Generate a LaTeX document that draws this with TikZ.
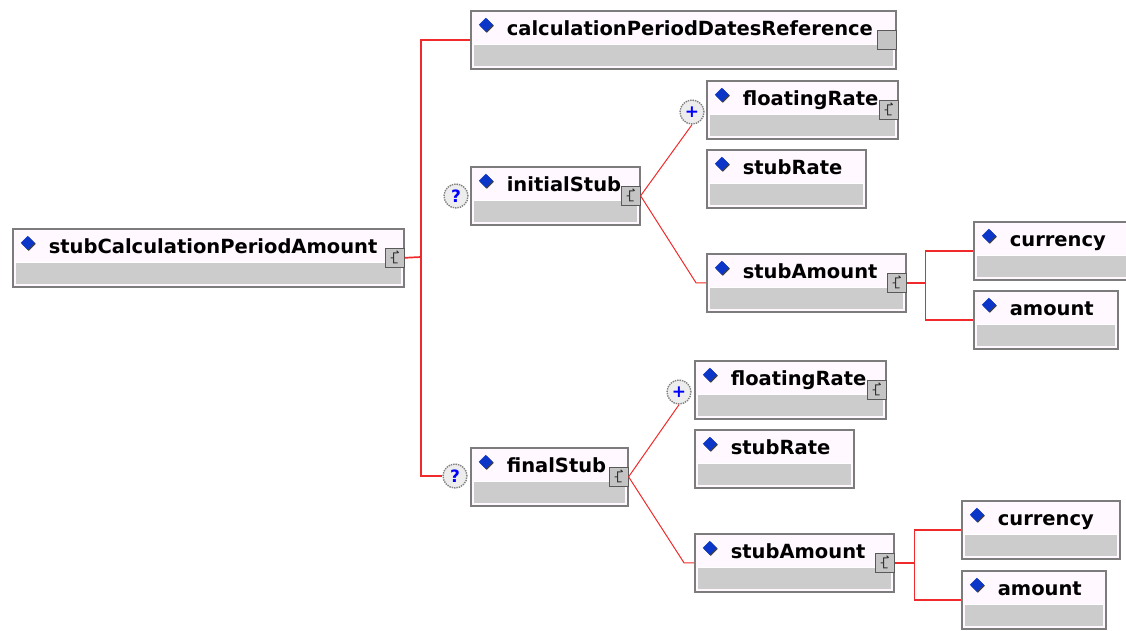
\documentclass[tikz,border=0pt]{standalone}
\usepackage{fontspec}
\setmainfont{DejaVu Sans}
\usepackage{tikz}
\usetikzlibrary{calc}
\definecolor{boxline}{HTML}{7C7C7C}
\definecolor{boxtop}{HTML}{FFF8FF}
\definecolor{boxband}{HTML}{CCCCCC}
\definecolor{linkred}{HTML}{F02A2A}
\definecolor{diablue}{HTML}{0B36C8}
\definecolor{iconfill}{HTML}{C4C4C4}
\tikzstyle{elem} = [rectangle, draw=boxline, line width=1.6pt, fill=boxtop, anchor=north west, inner sep=0pt, align=left,
  text height=24.5pt, text depth=33.5pt, font=\bfseries\fontsize{19.5}{21}\selectfont,
  execute at begin node={\hspace*{36pt}},
  path picture={
    \fill[boxband] ([shift={(3,34)}]path picture bounding box.north west) rectangle ([shift={(-3,-3)}]path picture bounding box.south east);
    \draw[white, line width=0.8pt] ([shift={(2,33.5)}]path picture bounding box.north west) -- ([shift={(-2,33.5)}]path picture bounding box.north east);
    \fill[black!75] ([shift={(16,8)}]path picture bounding box.north west) -- ++(7,7) -- ++(-7,7) -- ++(-7,-7) -- cycle;
    \fill[diablue] ([shift={(15,7)}]path picture bounding box.north west) -- ++(7,7) -- ++(-7,7) -- ++(-7,-7) -- cycle;
  }]
\tikzstyle{badge} = [circle, minimum size=24pt, inner sep=0pt, draw=black!50, densely dotted, line width=1.4pt, fill=black!7, text=blue, font=\bfseries\fontsize{17}{17}\selectfont]
\tikzstyle{iconbox} = [draw=black!65, line width=1.4pt, fill=iconfill]
\tikzstyle{link} = [linkred, line width=1.7pt]
\tikzstyle{thinlink} = [linkred, line width=1pt]
\newcommand{\plainicon}[1]{\draw[iconbox] ([shift={(-19,-9.5)}]#1.east) rectangle ([shift={(0,9.5)}]#1.east);}
\newcommand{\cplxicon}[1]{\plainicon{#1}
  \draw[black!80, line width=1pt] ([shift={(-7,-5)}]#1.east) -- ++(-4,0) -- ++(0,10) -- ++(4,0)
    ([shift={(-11,0)}]#1.east) -- ++(-3,0) ([shift={(-8,-7)}]#1.east) -- ++(2,2);}

\begin{document}
\begin{tikzpicture}[x=1pt, y=-1pt]
  \useasboundingbox (0,0) rectangle (1126,630);

  % element boxes
  \node[elem, text width=391pt] (root) at (12,228) {stubCalculationPeriodAmount};
  \node[elem, text width=425pt] (calc) at (470,10) {calculationPeriodDatesReference};

  \node[elem, text width=169pt] (initS) at (470,166) {initialStub};
  \node[elem, text width=191pt] (floatA) at (706,80) {floatingRate};
  \node[elem, text width=159pt] (rateA) at (706,149) {stubRate};
  \node[elem, text width=199pt] (amtA) at (706,253) {stubAmount};
  \node[elem, text width=158pt] (curA) at (973,221) {currency};
  \node[elem, text width=144pt] (amountA) at (973,290) {amount};

  \node[elem, text width=157pt] (finalS) at (470,447) {finalStub};
  \node[elem, text width=191pt] (floatB) at (694,360) {floatingRate};
  \node[elem, text width=159pt] (rateB) at (694,429) {stubRate};
  \node[elem, text width=199pt] (amtB) at (694,533) {stubAmount};
  \node[elem, text width=158pt] (curB) at (961,500) {currency};
  \node[elem, text width=144pt] (amountB) at (961,570) {amount};

  % occurrence badges
  \node[badge] (optA) at (456,196) {?};
  \node[badge] (optB) at (455,476) {?};
  \node[badge] (plusA) at (692,112) {+};
  \node[badge] (plusB) at (679,392) {+};

  % icons
  \plainicon{calc}
  \foreach \n in {root, initS, floatA, amtA, finalS, floatB, amtB}
    {\cplxicon{\n}}

  % connectors
  \coordinate (trunk) at (421,257);
  \draw[link] (root.east) -- (trunk);
  \draw[link] (calc.west) -| (trunk) |- (optB.west);

  \draw[thinlink] (initS.east) -- (plusA.south);
  \draw[thinlink] (initS.east) -- ([xshift=-10pt]amtA.west) -- (amtA.west);
  \draw[link] (amtA.east) -- ++(19,0) coordinate (forkA);
  \draw[link] (curA.west) -| (forkA) |- (amountA.west);

  \draw[thinlink] (finalS.east) -- (plusB.south);
  \draw[thinlink] (finalS.east) -- ([xshift=-10pt]amtB.west) -- (amtB.west);
  \draw[link] (amtB.east) -- ++(20,0) coordinate (forkB);
  \draw[link] (curB.west) -| (forkB) |- (amountB.west);
\end{tikzpicture}
\end{document}
